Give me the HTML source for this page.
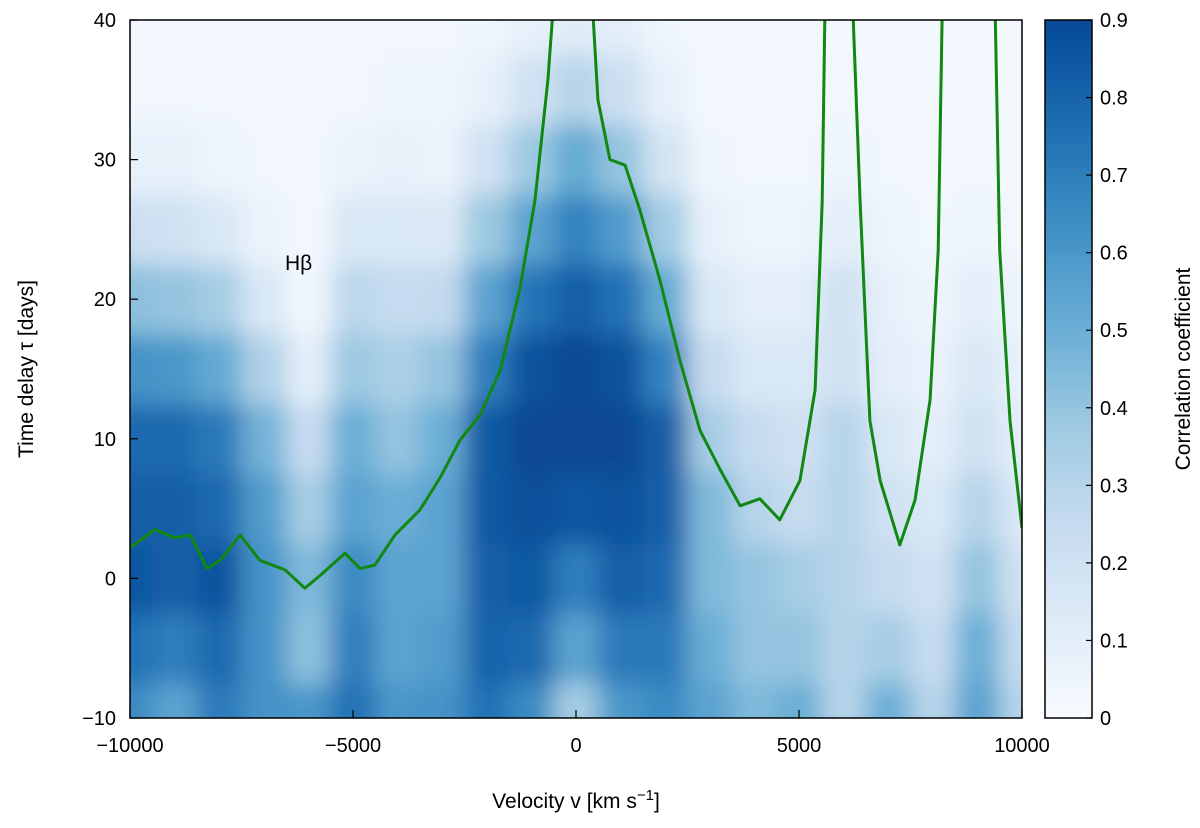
<!DOCTYPE html>
<html><head><meta charset="utf-8"><style>
html,body{margin:0;padding:0;background:#fff;}
svg text{font-family:"Liberation Sans",Arial,sans-serif;fill:#000;}
</style></head><body>
<svg id="chart" width="1200" height="823" xmlns="http://www.w3.org/2000/svg">
<defs>
<clipPath id="plotclip"><rect x="130" y="20" width="892" height="698"/></clipPath>
<filter id="blur" filterUnits="userSpaceOnUse" x="0" y="0" width="1200" height="823"><feGaussianBlur stdDeviation="12"/></filter>
<linearGradient id="cbgrad" x1="0" y1="1" x2="0" y2="0">
<stop offset="0" stop-color="#f7fbff"/><stop offset="0.139" stop-color="#deebf7"/><stop offset="0.278" stop-color="#c6dbef"/><stop offset="0.417" stop-color="#9ecae1"/><stop offset="0.556" stop-color="#6baed6"/><stop offset="0.694" stop-color="#4292c6"/><stop offset="0.833" stop-color="#2171b5"/><stop offset="0.972" stop-color="#08519c"/><stop offset="1" stop-color="#084a94"/>
</linearGradient>
</defs>
<g clip-path="url(#plotclip)"><g id="cells" filter="url(#blur)"></g></g>
<g id="line" clip-path="url(#plotclip)"></g>
<rect x="130" y="20" width="892" height="698" fill="none" stroke="#000" stroke-width="1.5"/>
<text x="285" y="270" font-size="21">Hβ</text>
<g id="axes"></g>
<rect x="1045" y="20" width="47" height="698" fill="url(#cbgrad)" stroke="#000" stroke-width="1.5"/>
<g id="cbticks"></g>
<text x="576" y="808" font-size="21" text-anchor="middle">Velocity v [km s<tspan dy="-8" font-size="15">−1</tspan><tspan dy="8">]</tspan></text>
<text transform="translate(33,369) rotate(-90)" font-size="21" text-anchor="middle">Time delay τ [days]</text>
<text transform="translate(1190,369) rotate(-90)" font-size="21" text-anchor="middle">Correlation coefficient</text>
</svg>
<script>
const velocities=[-10000,-9000,-8000,-7000,-6000,-5000,-4000,-3000,-2000,-1000,0,1000,2000,3000,4000,5000,6000,7000,8000,9000,10000];
const delays=[-10,-5,0,5,10,15,20,25,30,35,40];
const corr=[
[0.65,0.75,0.85,0.82,0.78,0.62,0.42,0.22,0.08,0.03,0.02],
[0.55,0.7,0.82,0.82,0.78,0.6,0.4,0.2,0.08,0.03,0.02],
[0.72,0.78,0.86,0.78,0.72,0.52,0.35,0.15,0.05,0.03,0.02],
[0.62,0.62,0.62,0.58,0.48,0.32,0.15,0.06,0.03,0.02,0.02],
[0.6,0.42,0.45,0.35,0.25,0.1,0.03,0.02,0.02,0.02,0.02],
[0.75,0.7,0.65,0.55,0.5,0.38,0.28,0.15,0.06,0.03,0.02],
[0.6,0.55,0.55,0.5,0.4,0.33,0.25,0.15,0.08,0.04,0.03],
[0.62,0.58,0.55,0.55,0.5,0.4,0.26,0.14,0.06,0.04,0.03],
[0.75,0.8,0.82,0.84,0.84,0.7,0.55,0.38,0.2,0.08,0.04],
[0.65,0.78,0.84,0.88,0.9,0.87,0.74,0.55,0.38,0.2,0.08],
[0.35,0.55,0.7,0.85,0.9,0.9,0.82,0.68,0.52,0.3,0.12],
[0.6,0.72,0.82,0.87,0.9,0.87,0.75,0.58,0.4,0.22,0.1],
[0.65,0.72,0.78,0.82,0.82,0.68,0.52,0.36,0.18,0.08,0.04],
[0.55,0.5,0.45,0.45,0.35,0.25,0.15,0.08,0.04,0.02,0.02],
[0.45,0.4,0.4,0.3,0.25,0.15,0.1,0.05,0.03,0.02,0.02],
[0.5,0.4,0.35,0.25,0.2,0.15,0.1,0.05,0.03,0.02,0.02],
[0.3,0.3,0.3,0.3,0.3,0.2,0.2,0.1,0.05,0.03,0.02],
[0.5,0.35,0.25,0.2,0.15,0.1,0.08,0.05,0.03,0.02,0.02],
[0.3,0.25,0.2,0.15,0.1,0.07,0.05,0.03,0.02,0.02,0.02],
[0.55,0.5,0.4,0.3,0.2,0.15,0.1,0.05,0.03,0.02,0.02],
[0.3,0.25,0.2,0.15,0.1,0.08,0.05,0.03,0.02,0.02,0.02]];
const lineV=[[-10000,-9440,-9000,-8650,-8270,-7980,-7530,-7090,-6520,-6080,-5740,-5180,-4840,-4510,-4060,-3500,-3050,-2600,-2150,-1700,-1260,-920,-630,-520],
[380,490,760,1100,1430,1880,2330,2780,3230,3680,4120,4570,5020,5360,5520,5580],
[6210,6370,6590,6820,7260,7600,7940,8120,8210],
[9400,9500,9730,10000]];
const lineT=[[2.2,3.5,2.9,3.1,0.7,1.3,3.1,1.3,0.6,-0.7,0.2,1.8,0.7,0.95,3.1,4.9,7.2,9.9,11.7,14.9,20.7,27.1,35.7,40.5],
[40.5,34.3,30,29.6,26.4,21.4,15.6,10.6,7.8,5.2,5.7,4.2,7.0,13.5,27,40.5],
[40.5,27,11.3,7,2.4,5.6,12.8,23.5,40.5],
[40.5,23.5,11.3,3.6]];
const xTicks=[-10000,-5000,0,5000,10000];
const yTicks=[-10,0,10,20,30,40];
const cbTicks=[0,0.1,0.2,0.3,0.4,0.5,0.6,0.7,0.8,0.9];

const X=v=>130+(v+10000)/20000*892;
const Y=t=>718-(t+10)/50*698;
const CB=c=>718-c/0.9*698;
const stops=[[0,[247,251,255]],[0.125,[222,235,247]],[0.25,[198,219,239]],[0.375,[158,202,225]],[0.5,[107,174,214]],[0.625,[66,146,198]],[0.75,[33,113,181]],[0.875,[8,81,156]],[1,[8,48,107]]];
function col(c){let f=Math.max(0,Math.min(0.9,c));for(let i=1;i<stops.length;i++){if(f<=stops[i][0]){const a=stops[i-1],b=stops[i],u=(f-a[0])/(b[0]-a[0]);return 'rgb('+a[1].map((x,k)=>Math.round(x+(b[1][k]-x)*u)).join(',')+')';}}return 'rgb(8,48,107)';}
const NS='http://www.w3.org/2000/svg';
function mk(tag,attrs,parent){const e=document.createElementNS(NS,tag);for(const k in attrs)e.setAttribute(k,attrs[k]);parent.appendChild(e);return e;}
const cells=document.getElementById('cells');
const dv=velocities[1]-velocities[0], dt=delays[1]-delays[0];
velocities.forEach((v,i)=>{delays.forEach((t,j)=>{
 let x0=X(v-dv/2),x1=X(v+dv/2),y0=Y(t+dt/2),y1=Y(t-dt/2);
 if(i==0)x0-=50; if(i==velocities.length-1)x1+=50; if(j==0)y1+=50; if(j==delays.length-1)y0-=50;
 const r=mk('rect',{x:x0,y:y0,width:x1-x0+0.5,height:y1-y0+0.5,fill:col(corr[i][j])},cells);
 
 
});});
const lg=document.getElementById('line');
lineV.forEach((seg,s)=>{
 const d=seg.map((v,k)=>(k?'L':'M')+X(v).toFixed(1)+','+Y(lineT[s][k]).toFixed(1)).join(' ');
 const p=mk('path',{d:d,fill:'none',stroke:'#118811','stroke-width':3,'stroke-linejoin':'round'},lg);
 
 
});
const ax=document.getElementById('axes');
xTicks.forEach(v=>{
 const l=mk('line',{x1:X(v),x2:X(v),y1:718,y2:710,stroke:'#000','stroke-width':1.2},ax);
 
 
 const t=mk('text',{x:X(v),y:752,'font-size':20,'text-anchor':'middle'},ax);
 t.textContent=String(v).replace('-','−');
 
 
});
yTicks.forEach(v=>{
 const l=mk('line',{x1:130,x2:138,y1:Y(v),y2:Y(v),stroke:'#000','stroke-width':1.2},ax);
 
 
 const t=mk('text',{x:116,y:Y(v)+7,'font-size':20,'text-anchor':'end'},ax);
 t.textContent=String(v).replace('-','−');
 
 
});
const cg=document.getElementById('cbticks');
cbTicks.forEach(c=>{
 const l=mk('line',{x1:1092,x2:1086,y1:CB(c),y2:CB(c),stroke:'#000','stroke-width':1.2},cg);
 
 
 const t=mk('text',{x:1100,y:CB(c)+7,'font-size':20},cg);
 t.textContent=String(c);
 
 
});
</script>
</body></html>
